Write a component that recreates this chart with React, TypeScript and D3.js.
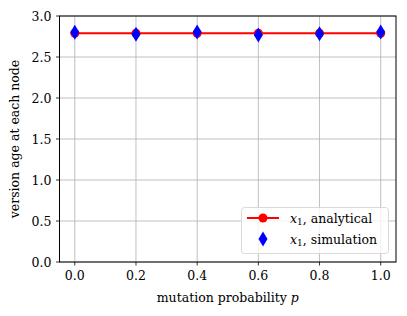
import React from "react";
import * as d3 from "d3";

const probs = [0.0, 0.2, 0.4, 0.6, 0.8, 1.0];
const analytical = [2.789, 2.789, 2.789, 2.789, 2.789, 2.789];
const simulation = [2.801, 2.777, 2.805, 2.768, 2.784, 2.805];
const xTicks = [0.0, 0.2, 0.4, 0.6, 0.8, 1.0];
const yTicks = [0.0, 0.5, 1.0, 1.5, 2.0, 2.5, 3.0];

const W = 407, H = 316;
const L = 59.5, R = 396, T = 16, B = 262;
const font = "'DejaVu Serif', serif";
const FS = 12.5;

export default function App() {
  const x = d3.scaleLinear().domain([-0.05, 1.05]).range([L, R]);
  const y = d3.scaleLinear().domain([0, 3]).range([B, T]);
  const line = d3.line<number>().x((_, i) => x(probs[i])).y((d) => y(d));
  const diamond = (cx: number, cy: number, s = 1) =>
    `M${cx},${cy - 7.5 * s}L${cx + 4.5 * s},${cy}L${cx},${cy + 7.5 * s}L${cx - 4.5 * s},${cy}Z`;
  return (
    <svg width={W} height={H} style={{ position: "absolute", left: 0, top: 0 }} fontFamily={font}>
      <rect x={0} y={0} width={W} height={H} fill="#fff" />
      {xTicks.map((t) => (
        <line key={"gx" + t} x1={x(t)} x2={x(t)} y1={T} y2={B} stroke="#b0b0b0" strokeWidth={0.8} />
      ))}
      {yTicks.map((t) => (
        <line key={"gy" + t} x1={L} x2={R} y1={y(t)} y2={y(t)} stroke="#b0b0b0" strokeWidth={0.8} />
      ))}
      <path d={line(analytical) || ""} fill="none" stroke="red" strokeWidth={2} />
      {analytical.map((v, i) => (
        <circle key={"c" + i} cx={x(probs[i])} cy={y(v)} r={4.5} fill="red" />
      ))}
      {simulation.map((v, i) => (
        <path key={"d" + i} d={diamond(x(probs[i]), y(v))} fill="blue" />
      ))}
      <rect x={L} y={T} width={R - L} height={B - T} fill="none" stroke="#000" strokeWidth={1} />
      {xTicks.map((t) => (
        <g key={"tx" + t}>
          <line x1={x(t)} x2={x(t)} y1={B} y2={B + 3.5} stroke="#000" strokeWidth={0.8} />
          <text x={x(t)} y={B + 18} textAnchor="middle" fontSize={FS}>{t.toFixed(1)}</text>
        </g>
      ))}
      {yTicks.map((t) => (
        <g key={"ty" + t}>
          <line x1={L - 3.5} x2={L} y1={y(t)} y2={y(t)} stroke="#000" strokeWidth={0.8} />
          <text x={L - 8} y={y(t) + 4.5} textAnchor="end" fontSize={FS}>{t.toFixed(1)}</text>
        </g>
      ))}
      <text x={(L + R) / 2} y={302} textAnchor="middle" fontSize={FS}>
        mutation probability <tspan fontStyle="italic">p</tspan>
      </text>
      <text transform={`translate(19,${(T + B) / 2}) rotate(-90)`} textAnchor="middle" fontSize={FS}>
        version age at each node
      </text>
      <g>
        <rect x={241.5} y={207.5} width={147} height={46} rx={3} fill="#fff" fillOpacity={0.8} stroke="#d0d0d0" strokeWidth={0.8} />
        <line x1={247} x2={279} y1={218} y2={218} stroke="red" strokeWidth={2} />
        <circle cx={263} cy={218} r={4.5} fill="red" />
        <path d={diamond(263, 239)} fill="blue" />
        <text x={290} y={222.5} fontSize={FS}>
          <tspan fontStyle="italic">x</tspan><tspan fontSize={9} dy={2}>1</tspan><tspan dy={-2}>, analytical</tspan>
        </text>
        <text x={290} y={243.5} fontSize={FS}>
          <tspan fontStyle="italic">x</tspan><tspan fontSize={9} dy={2}>1</tspan><tspan dy={-2}>, simulation</tspan>
        </text>
      </g>
    </svg>
  );
}
